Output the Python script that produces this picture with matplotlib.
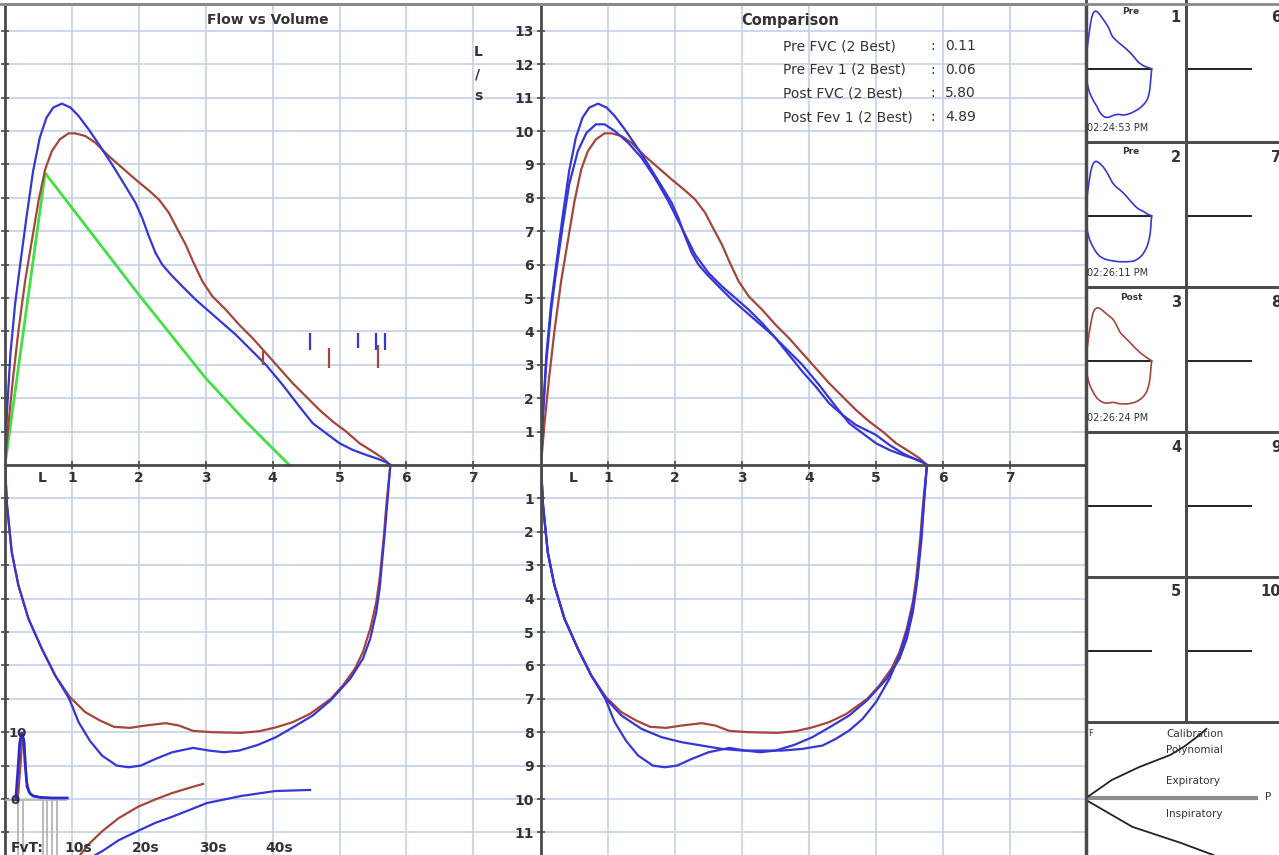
import matplotlib.pyplot as plt
from matplotlib.lines import Line2D
import numpy as np

# ---- flow-volume loops (volume in L, flow in L/s; inspiratory flow stored as positive) ----
pre1_exp_vol = [0, 0.03, 0.08, 0.15, 0.22, 0.32, 0.42, 0.52, 0.62, 0.72, 0.85, 0.98, 1.1, 1.25, 1.42,
                1.6, 1.8, 1.95, 2.05, 2.15, 2.25, 2.35, 2.48, 2.65, 2.85, 3.05, 3.25, 3.45, 3.65, 3.9,
                4.15, 4.4, 4.6, 4.8, 5.0, 5.2, 5.4, 5.58, 5.7, 5.76]
pre1_exp_flow = [0, 1.6, 3.3, 4.8, 5.9, 7.4, 8.8, 9.8, 10.4, 10.7, 10.82, 10.7, 10.45, 10.05, 9.55,
                 9.0, 8.35, 7.85, 7.4, 6.85, 6.35, 6.0, 5.7, 5.35, 4.95, 4.6, 4.25, 3.9, 3.5, 3.0,
                 2.4, 1.75, 1.25, 0.95, 0.65, 0.45, 0.3, 0.18, 0.08, 0]
pre1_insp_vol = [0, 0.03, 0.1, 0.2, 0.35, 0.55, 0.75, 0.96, 1.1, 1.27, 1.45, 1.67, 1.85, 2.03, 2.25,
                 2.5, 2.81, 3.05, 3.27, 3.5, 3.78, 4.05, 4.3, 4.6, 4.87, 5.16, 5.35, 5.46, 5.55, 5.6,
                 5.68, 5.72, 5.76]
pre1_insp_flow = [0, 1.2, 2.6, 3.6, 4.6, 5.5, 6.3, 7.0, 7.7, 8.26, 8.7, 9.0, 9.05, 9.0, 8.8,
                  8.6, 8.47, 8.55, 8.6, 8.55, 8.38, 8.15, 7.86, 7.5, 7.04, 6.4, 5.8, 5.2, 4.4, 3.7,
                  1.95, 1.0, 0]

pre2_exp_vol = [0, 0.03, 0.08, 0.15, 0.22, 0.32, 0.42, 0.55, 0.68, 0.82, 0.95, 1.1, 1.3, 1.5, 1.7,
                1.9, 2.1, 2.3, 2.5, 2.7, 2.9, 3.1, 3.3, 3.5, 3.7, 3.9, 4.1, 4.3, 4.5, 4.7, 4.85,
                5.0, 5.2, 5.4, 5.58, 5.7, 5.76]
pre2_exp_flow = [0, 1.5, 3.1, 4.6, 5.7, 7.1, 8.4, 9.4, 9.95, 10.2, 10.2, 10.0, 9.65, 9.2, 8.6,
                 7.9, 7.1, 6.3, 5.75, 5.35, 5.0, 4.65, 4.25, 3.8, 3.3, 2.8, 2.35, 1.85, 1.5, 1.2, 1.05,
                 0.9, 0.6, 0.35, 0.18, 0.08, 0]
pre2_insp_vol = [0, 0.03, 0.1, 0.2, 0.35, 0.55, 0.75, 0.97, 1.2, 1.5, 1.8, 2.1, 2.4, 2.7, 3.0,
                 3.3, 3.6, 3.9, 4.2, 4.4, 4.6, 4.8, 5.0, 5.2, 5.35, 5.46, 5.55, 5.62, 5.68, 5.72, 5.76]
pre2_insp_flow = [0, 1.2, 2.6, 3.6, 4.6, 5.5, 6.3, 7.0, 7.5, 7.9, 8.15, 8.3, 8.4, 8.5, 8.55,
                  8.55, 8.55, 8.5, 8.4, 8.2, 7.95, 7.6, 7.1, 6.4, 5.7, 5.0, 4.2, 3.4, 2.2, 1.0, 0]

post_exp_vol = [0, 0.05, 0.12, 0.2, 0.3, 0.4, 0.5, 0.6, 0.7, 0.82, 0.95, 1.05, 1.2, 1.35, 1.55,
                1.75, 1.95, 2.15, 2.3, 2.45, 2.58, 2.7, 2.82, 2.95, 3.1, 3.3, 3.5, 3.7, 3.9, 4.1,
                4.3, 4.5, 4.7, 4.9, 5.1, 5.3, 5.5, 5.65, 5.76]
post_exp_flow = [0, 1.2, 2.6, 4.0, 5.5, 6.7, 7.9, 8.85, 9.4, 9.75, 9.93, 9.93, 9.85, 9.65, 9.25,
                 8.9, 8.55, 8.22, 7.95, 7.55, 7.05, 6.6, 6.05, 5.5, 5.05, 4.65, 4.2, 3.8, 3.35, 2.9,
                 2.45, 2.05, 1.65, 1.3, 1.0, 0.65, 0.4, 0.2, 0]
post_insp_vol = [0, 0.03, 0.1, 0.2, 0.35, 0.55, 0.75, 0.97, 1.2, 1.42, 1.63, 1.87, 2.1, 2.4, 2.6,
                 2.81, 3.1, 3.53, 3.8, 4.04, 4.3, 4.56, 4.87, 5.05, 5.23, 5.35, 5.46, 5.55, 5.6,
                 5.66, 5.7, 5.76]
post_insp_flow = [0, 1.2, 2.6, 3.6, 4.6, 5.5, 6.3, 6.95, 7.4, 7.65, 7.84, 7.87, 7.8, 7.73, 7.8,
                  7.96, 8.0, 8.02, 7.97, 7.86, 7.7, 7.45, 7.0, 6.6, 6.1, 5.6, 4.9, 4.1, 3.4,
                  2.2, 1.2, 0]

# predicted curve
pred_vol = [0, 0.6, 2.0, 3.0, 3.6, 4.25]
pred_flow = [0, 8.74, 5.1, 2.6, 1.3, 0]

# small event markers on the flow-volume plot
pre_mark_x = [4.56, 5.28, 5.55, 5.68]
pre_mark_lo = [3.45, 3.5, 3.45, 3.45]
pre_mark_hi = [3.95, 3.95, 3.95, 3.95]
post_mark_x = [3.86, 4.84, 5.57]
post_mark_lo = [3.0, 2.9, 2.9]
post_mark_hi = [3.4, 3.5, 3.6]

# comparison table
cmp_labels = ['Pre FVC (2 Best)', 'Pre Fev 1 (2 Best)', 'Post FVC (2 Best)', 'Post Fev 1 (2 Best)']
cmp_values = ['0.11', '0.06', '5.80', '4.89']

# flow vs time inset (time in s)
fvt_pre_t = [1.6, 1.9, 2.2, 2.5, 2.8, 3.0, 3.3, 3.7, 4.2, 5.2, 7.0, 9.3]
fvt_pre_f = [0, 4.0, 8.5, 10.0, 9.0, 5.5, 2.0, 1.0, 0.6, 0.4, 0.3, 0.3]
fvt_post_t = [1.9, 2.3, 2.6, 2.9, 3.2, 3.6, 4.2, 5.5]
fvt_post_f = [0, 5.0, 9.5, 8.5, 3.0, 1.2, 0.6, 0.35]
fvt_gray_t = [1.9, 2.7, 5.7, 6.3, 7.0, 7.8]
vt_post_t = [10.6, 12.5, 14.6, 17.0, 19.9, 22.5, 25.0, 27.5, 29.6]
vt_post_v = [-9.0, -6.6, -4.6, -2.7, -1.0, 0.1, 1.04, 1.8, 2.4]
vt_pre_t = [12.1, 14.6, 17.0, 19.9, 22.5, 25.0, 30.2, 35.3, 40.4, 45.6]
vt_pre_v = [-9.0, -7.6, -6.0, -4.6, -3.4, -2.5, -0.45, 0.6, 1.34, 1.5]
fvt_ticks = [10, 20, 30, 40]

# trial thumbnails
trial_titles = ['Pre', 'Pre', 'Post']
trial_times = ['02:24:53 PM', '02:26:11 PM', '02:26:24 PM']

# calibration polynomial
cal_p_exp = [0, 0.15, 0.31, 0.49, 0.575, 0.66, 0.70]
cal_f_exp = [0, 0.237, 0.408, 0.566, 0.684, 0.829, 0.91]
cal_p_insp = [0, 0.27, 0.55, 0.74, 0.84]
cal_f_insp = [-0.026, -0.38, -0.59, -0.75, -0.88]

BLUE = '#3636d6'
BROWN = '#a5453b'
GREEN = '#42e042'
GRID = '#c3d1e8'
DARK = '#4a4a4a'
TXT = '#333333'

W, H = 1279, 855
fig = plt.figure(figsize=(W / 100, H / 100), dpi=100)


def rect(x0, y0, x1, y1):
    return [x0 / W, 1 - y1 / H, (x1 - x0) / W, (y1 - y0) / H]


def ftext(px, py, s, **kw):
    fig.text(px / W, 1 - py / H, s, **kw)


def neg(a):
    return -np.array(a)


def loop_axes(r, xmax, show_labels, lx):
    ax = fig.add_axes(r)
    ax.set_xlim(0, xmax)
    ax.set_ylim(-(855 - 465) / 33.4, (465 - 4) / 33.4)
    yt = [v for v in range(-11, 14) if v != 0]
    ax.set_xticks(range(1, 8))
    ax.set_yticks(yt)
    ax.grid(True, color=GRID, lw=1.2)
    ax.set_axisbelow(True)
    ax.spines['right'].set_visible(False)
    ax.spines['top'].set_color('#8a8a8a')
    ax.spines['top'].set_linewidth(2)
    ax.spines['bottom'].set_position(('data', 0))
    for s in ['bottom', 'left']:
        ax.spines[s].set_color(DARK)
        ax.spines[s].set_linewidth(2)
    ax.tick_params(direction='inout', length=6, width=1.2, color=DARK)
    ax.set_xticklabels([str(i) for i in range(1, 8)], fontweight='bold', fontsize=10, color=TXT)
    ax.tick_params(axis='x', pad=1)
    if show_labels:
        ax.set_yticklabels([str(abs(v)) for v in yt], fontweight='bold', fontsize=10, color=TXT)
        ax.tick_params(axis='y', pad=2)
    else:
        ax.set_yticklabels([])
    ax.text(lx, -0.4, 'L', ha='center', va='center', fontweight='bold', fontsize=10, color=TXT)
    return ax


# ---- left panel: Flow vs Volume ----
ax1 = loop_axes(rect(5, 4, 541, 855), 536 / 66.9, False, 0.55)
ax1.plot(pred_vol, pred_flow, color=GREEN, lw=2)
ax1.plot(post_exp_vol, post_exp_flow, color=BROWN, lw=1.6)
ax1.plot(post_insp_vol, neg(post_insp_flow), color=BROWN, lw=1.6)
ax1.plot(pre1_exp_vol, pre1_exp_flow, color=BLUE, lw=1.6)
ax1.plot(pre1_insp_vol, neg(pre1_insp_flow), color=BLUE, lw=1.6)
ax1.vlines(pre_mark_x, pre_mark_lo, pre_mark_hi, color=BLUE, lw=1.6)
ax1.vlines(post_mark_x, post_mark_lo, post_mark_hi, color=BROWN, lw=1.6)

# ---- comparison panel ----
ax2 = loop_axes(rect(541, 4, 1086, 855), 545 / 67.0, True, 0.48)
ax2.spines['right'].set_visible(True)
ax2.spines['right'].set_color(DARK)
ax2.spines['right'].set_linewidth(2.5)
ax2.plot(post_exp_vol, post_exp_flow, color=BROWN, lw=1.6)
ax2.plot(post_insp_vol, neg(post_insp_flow), color=BROWN, lw=1.6)
ax2.plot(pre2_exp_vol, pre2_exp_flow, color=BLUE, lw=1.6)
ax2.plot(pre2_insp_vol, neg(pre2_insp_flow), color=BLUE, lw=1.6)
ax2.plot(pre1_exp_vol, pre1_exp_flow, color=BLUE, lw=1.6)
ax2.plot(pre1_insp_vol, neg(pre1_insp_flow), color=BLUE, lw=1.6)

ftext(268, 20, 'Flow vs Volume', ha='center', va='center', fontweight='bold', fontsize=10, color=TXT)
ftext(790, 20, 'Comparison', ha='center', va='center', fontweight='bold', fontsize=10.5, color=TXT)
for i, (lab, val) in enumerate(zip(cmp_labels, cmp_values)):
    py = 46 + i * 23.7
    ftext(783, py, lab, ha='left', va='center', fontsize=10, color=TXT)
    ftext(933, py, ':', ha='center', va='center', fontsize=10, color=TXT)
    ftext(945, py, val, ha='left', va='center', fontsize=10, color=TXT)
for ch, py in zip(['L', '/', 's'], [52, 74, 96]):
    ftext(478, py, ch, ha='center', va='center', fontweight='bold', fontsize=10, color=TXT)

# ---- flow vs time inset ----
axf = fig.add_axes(rect(5, 700, 541, 855))
axf.patch.set_visible(False)
axf.axis('off')
axf.set_xlim(0, 536 / 6.69)
axf.set_ylim(-55 / 6.7, 100 / 6.7)
axf.text(1.9, 10, '10', ha='center', va='center', fontweight='bold', fontsize=9.5, color=TXT)
axf.text(1.5, 0, '0', ha='center', va='center', fontweight='bold', fontsize=9.5, color=TXT)
axf.vlines(fvt_gray_t, -8.3, 0, color='#b4b4b4', lw=1.3)
axf.hlines(0, 0, 9.3, color='#b4b4b4', lw=1.2)
axf.plot(fvt_post_t, fvt_post_f, color=BROWN, lw=1.6)
axf.plot(fvt_pre_t, fvt_pre_f, color='#2a2ad0', lw=2)
axf.plot(vt_post_t, vt_post_v, color=BROWN, lw=1.6)
axf.plot(vt_pre_t, vt_pre_v, color=BLUE, lw=1.6)
axf.text(3.3, -7.2, 'FvT:', ha='center', va='center', fontweight='bold', fontsize=10, color=TXT)
for t in fvt_ticks:
    axf.text(t + 1.0, -7.2, f'{t}s', ha='center', va='center', fontweight='bold', fontsize=10, color=TXT)

# ---- trial thumbnails ----
row_tops = [-5, 142, 287, 432, 577]
row_bots = [142, 287, 432, 577, 722]
thumbs = [(pre1_exp_vol, pre1_exp_flow, pre1_insp_vol, pre1_insp_flow, BLUE),
          (pre2_exp_vol, pre2_exp_flow, pre2_insp_vol, pre2_insp_flow, BLUE),
          (post_exp_vol, post_exp_flow, post_insp_vol, post_insp_flow, BROWN)]
for col in range(2):
    for row in range(5):
        top, bot = row_tops[row], row_bots[row]
        x0 = 1086 + 100 * col
        axm = fig.add_axes(rect(x0, top, x0 + 100, bot))
        axm.set_xlim(0, 100 / 11.4)
        axm.set_ylim(-(bot - top - 74) / 5.35, 74 / 5.35)
        axm.set_xticks([])
        axm.set_yticks([])
        axm.patch.set_visible(False)
        for s in axm.spines.values():
            s.set_color(DARK)
            s.set_linewidth(2)
        axm.hlines(0, 0, 5.8, color='#222222', lw=1.4)
        num = row + 1 + 5 * col
        axm.text(0.95, 1 - (22 if row == 0 else 15) / (bot - top), str(num), transform=axm.transAxes,
                 ha='right', va='center', fontweight='bold', fontsize=10.5, color=TXT)
        if col == 0 and row < 3:
            ev, ef, iv, iflow, c = thumbs[row]
            axm.plot(ev, ef, color=c, lw=1.2)
            axm.plot(iv, neg(iflow), color=c, lw=1.2)
            ftext(1131, top + (17 if row == 0 else 10), trial_titles[row], ha='center', va='center',
                  fontweight='bold', fontsize=6.5, color=TXT)
            ftext(1087, bot - 14, trial_times[row], ha='left', va='center', fontsize=7, color=TXT)

# ---- calibration polynomial ----
axc = fig.add_axes(rect(1086, 722, 1286, 855))
axc.set_xlim(0, 200 / 172)
axc.set_ylim(-57 / 76, 76 / 76)
axc.set_xticks([])
axc.set_yticks([])
axc.patch.set_visible(False)
for s in ['right', 'bottom']:
    axc.spines[s].set_visible(False)
for s in ['left', 'top']:
    axc.spines[s].set_color(DARK)
    axc.spines[s].set_linewidth(2)
axc.hlines(0, 0, 1.0, color='#8c8c8c', lw=3)
axc.plot(cal_p_exp, cal_f_exp, color='#222222', lw=1.3)
axc.plot(cal_p_insp, cal_f_insp, color='#222222', lw=1.3)
for s, py in zip(['Calibration', 'Polynomial', 'Expiratory', 'Inspiratory'], [734, 750, 781, 814]):
    ftext(1166, py, s, ha='left', va='center', fontsize=7.5, color=TXT)
ftext(1091, 733, 'F', ha='center', va='center', fontsize=6, color=TXT)
ftext(1268, 797, 'P', ha='center', va='center', fontsize=7.5, color=TXT)

# top border
fig.add_artist(Line2D([0, 1], [1 - 4 / H] * 2, color='#8a8a8a', lw=2))

fig.savefig('out.png', dpi=100)
